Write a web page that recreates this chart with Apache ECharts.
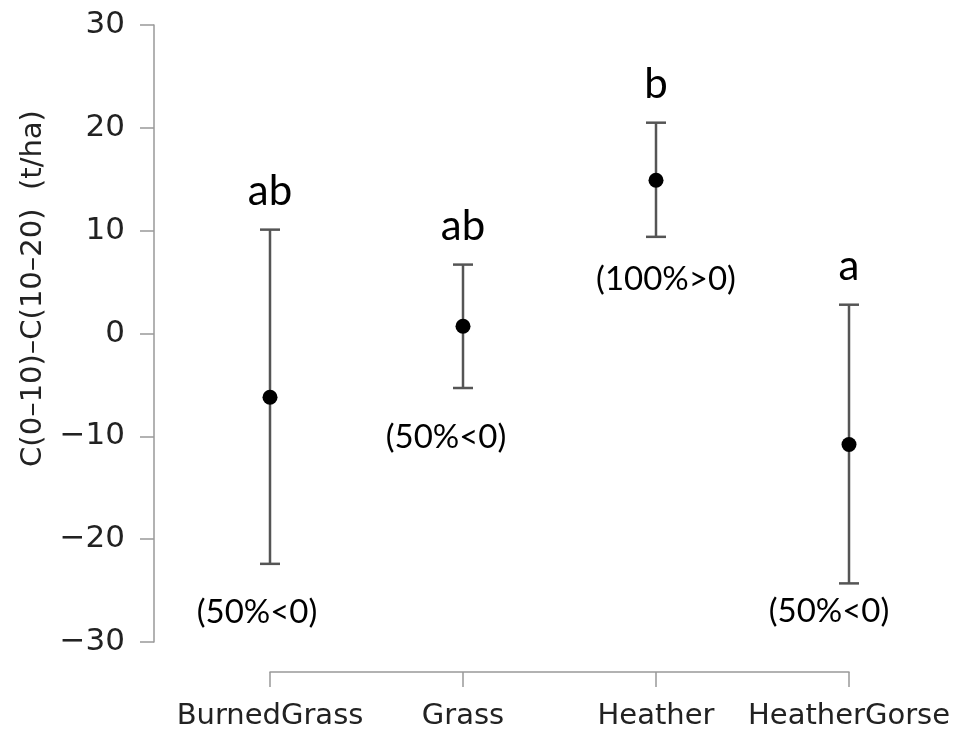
<!DOCTYPE html>
<html>
<head>
<meta charset="utf-8">
<script src="https://cdn.jsdelivr.net/npm/echarts@6/dist/echarts.min.js"></script>
<style>html,body{margin:0;padding:0;background:#fff}#c{width:961px;height:731px}</style>
</head>
<body>
<div id="c"></div>
<script>
// ---- data ----
var categories = ['BurnedGrass', 'Grass', 'Heather', 'HeatherGorse'];
var means  = [-6.2, 0.7, 14.9, -10.8];
var uppers = [10.1, 6.7, 20.5, 2.8];
var lowers = [-22.4, -5.3, 9.4, -24.3];
var letters = ['ab', 'ab', 'b', 'a'];
var notes = ['(50%<0)', '(50%<0)', '(100%>0)', '(50%<0)'];
var yTicks = [-30, -20, -10, 0, 10, 20, 30];

// ---- layout of annotations (pixel offsets) ----
var noteDx = [-13, -17, 10, -20];
var noteDy = [49, 49, 43, 28];
var letterDy = -38;

var chart = echarts.init(document.getElementById('c'));
var lineColor = '#555';
var axisColor = '#999';
var dejavu = "'DejaVu Sans', Verdana, sans-serif";

var errData = categories.map(function (c, i) { return [i, lowers[i], uppers[i], means[i]]; });

chart.setOption({
  animation: false,
  grid: { left: 270, right: 112, top: 25, bottom: 89, containLabel: false },
  xAxis: {
    type: 'category',
    data: categories,
    boundaryGap: false,
    offset: 30,
    axisLine: { onZero: false, lineStyle: { color: axisColor, width: 1.5 } },
    axisTick: { alignWithLabel: true, interval: 0, length: 15, lineStyle: { color: axisColor, width: 1.5 } },
    axisLabel: { interval: 0, color: '#222', fontFamily: dejavu, fontSize: 29, margin: 30 },
    splitLine: { show: false }
  },
  yAxis: {
    type: 'value',
    min: yTicks[0], max: yTicks[yTicks.length - 1], interval: 10,
    offset: 116,
    name: 'C(0\u201310)\u2013C(10\u201320)  (t/ha)',
    nameLocation: 'middle',
    nameGap: 106,
    nameTextStyle: { color: '#222', fontFamily: dejavu, fontSize: 29, padding: [0, 0, 0, 90] },
    axisLine: { show: true, lineStyle: { color: axisColor, width: 1.5 } },
    axisTick: { show: true, length: 14, lineStyle: { color: axisColor, width: 1.5 } },
    axisLabel: { color: '#222', fontFamily: dejavu, fontSize: 31, margin: 29,
      formatter: function (v) { return v < 0 ? '\u2212' + Math.abs(v) : String(v); } },
    splitLine: { show: false }
  },
  series: [{
    type: 'custom',
    data: errData,
    renderItem: function (params, api) {
      var i = api.value(0);
      var lo = api.coord([i, api.value(1)]);
      var hi = api.coord([i, api.value(2)]);
      var mid = api.coord([i, api.value(3)]);
      var x = lo[0];
      var cap = 10;
      var st = { stroke: lineColor, lineWidth: 2.5 };
      return {
        type: 'group',
        children: [
          { type: 'line', shape: { x1: x, y1: hi[1], x2: x, y2: lo[1] }, style: st },
          { type: 'line', shape: { x1: x - cap, y1: hi[1], x2: x + cap, y2: hi[1] }, style: st },
          { type: 'line', shape: { x1: x - cap, y1: lo[1], x2: x + cap, y2: lo[1] }, style: st },
          { type: 'circle', shape: { cx: x, cy: mid[1], r: 7.5 }, style: { fill: '#000' } },
          { type: 'text', x: x, y: hi[1] + letterDy, style: { text: letters[i], fill: '#000',
              font: '42px Lato, "Open Sans", sans-serif', align: 'center', verticalAlign: 'middle' } },
          { type: 'text', x: x + noteDx[i], y: lo[1] + noteDy[i], style: { text: notes[i], fill: '#000',
              font: '33px Lato, "Open Sans", sans-serif', align: 'center', verticalAlign: 'middle' } }
        ]
      };
    }
  }]
});
</script>
</body>
</html>
